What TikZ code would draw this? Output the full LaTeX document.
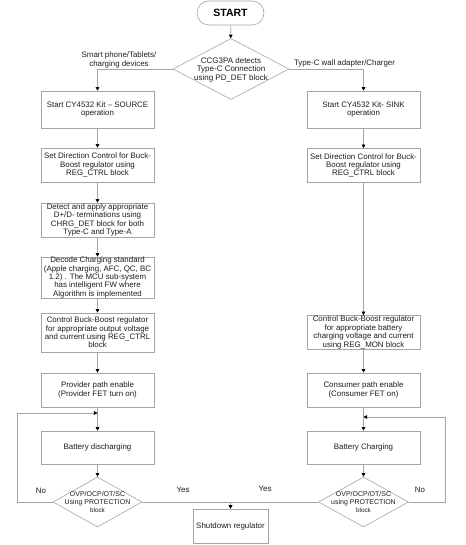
\documentclass[tikz,border=0pt]{standalone}
\usepackage{fontspec}
\setmainfont{Liberation Sans}
\usetikzlibrary{shapes.geometric,arrows.meta}
\definecolor{linegray}{RGB}{165,165,165}
\definecolor{txt}{RGB}{30,30,30}
\begin{document}
\begin{tikzpicture}[x=1pt,y=-1pt,
  box/.style={draw=linegray, line width=0.6pt, rectangle, minimum width=113pt, inner sep=0pt, align=center, text=txt, font=\fontsize{7.9}{8.4}\selectfont},
  dia/.style={draw=linegray, line width=0.6pt, diamond, inner sep=0pt},
  diatext/.style={align=center, text=txt, inner sep=0pt},
  lbl/.style={align=center, text=txt, inner sep=0pt, font=\fontsize{7.9}{8.4}\selectfont},
  conn/.style={draw=linegray, line width=0.7pt, -{Triangle[width=3.6pt,length=3.6pt,color=black]}},
  plain/.style={draw=linegray, line width=0.7pt}
]
\useasboundingbox (0,0) rectangle (465,545);
\fill[white] (0,0) rectangle (465,545);

% start
\node[draw=linegray, line width=0.6pt, rounded corners=12pt, minimum width=67pt, minimum height=24pt, inner sep=0pt, text=black, font=\fontsize{10.5}{12}\selectfont\bfseries] (start) at (230.5,13) {START};

% detection diamond
\node[dia, minimum width=116pt, minimum height=61pt] (det) at (231,69) {};
\node[diatext, font=\fontsize{8}{8.5}\selectfont] (dett) at (231,69.5) {CCG3PA detects\\Type-C Connection\\using PD\_DET block};

% left column
\node[box, minimum height=37pt] (l1) at (97.5,109.5) {Start CY4532 Kit -- SOURCE\\operation};
\node[box, minimum height=34pt] (l2) at (97.5,165) {Set Direction Control for Buck-\\Boost regulator using\\REG\_CTRL block};
\node[box, minimum height=34pt] (l3) at (97.5,220) {Detect and apply appropriate\\D+/D- terminations using\\CHRG\_DET block for both\\Type-C and Type-A};
\node[box, minimum height=39pt] (l4) at (97.5,277.5) {Decode Charging standard\\(Apple charging, AFC, QC, BC\\1.2) . The MCU sub-system\\has intelligent FW where\\Algorithm is implemented};
\node[box, minimum height=39pt] (l5) at (97.5,332.5) {Control Buck-Boost regulator\\for appropriate output voltage\\and current using REG\_CTRL\\block};
\node[box, minimum height=34pt] (l6) at (97.5,390) {Provider path enable\\(Provider FET turn on)};
\node[box, minimum height=33pt] (l7) at (97.5,447.5) {Battery discharging};
\node[dia, minimum width=89pt, minimum height=50pt] (ld) at (97.5,502) {};
\node[diatext, font=\fontsize{7}{8}\selectfont] (ldt) at (97.5,502) {OVP/OCP/OT/SC\\Using PROTECTION\\{\fontsize{6.3}{8}\selectfont block}};

% right column
\node[box, minimum height=37pt] (r1) at (363.5,109.5) {Start CY4532 Kit- SINK\\operation};
\node[box, minimum height=34pt] (r2) at (363.5,165.5) {Set Direction Control for Buck-\\Boost regulator using\\REG\_CTRL block};
\node[box, minimum height=34pt] (r3) at (363.5,332.5) {Control Buck-Boost regulator\\for appropriate battery\\charging voltage and current\\using REG\_MON block};
\node[box, minimum height=34pt] (r4) at (363.5,390) {Consumer path enable\\(Consumer FET on)};
\node[box, minimum height=33pt] (r5) at (363.5,447.5) {Battery Charging};
\node[dia, minimum width=90pt, minimum height=50pt] (rd) at (363.5,502) {};
\node[diatext, font=\fontsize{7}{8}\selectfont] (rdt) at (363.5,502) {OVP/OCP/OT/SC\\using PROTECTION\\{\fontsize{6.3}{8}\selectfont block}};

% shutdown
\node[box, minimum width=75pt, minimum height=34pt] (sd) at (230.5,526) {Shutdown regulator};

% loop junctions
\coordinate (lj) at (97.5,413);
\coordinate (rj) at (363.5,417);

% connectors
\draw[conn] (start) -- (det);
\draw[conn] (det.west) -| (l1.north);
\draw[conn] (det.east) -| (r1.north);
\draw[conn] (l1) -- (l2);
\draw[conn] (l2) -- (l3);
\draw[conn] (l3) -- (l4);
\draw[conn] (l4) -- (l5);
\draw[conn] (l5) -- (l6);
\draw[conn] (l6) -- (l7);
\draw[conn] (l7) -- (ld);
\draw[conn] (r1) -- (r2);
\draw[conn] (r2) -- (r3);
\draw[conn] (r3) -- (r4);
\draw[conn] (r4) -- (r5);
\draw[conn] (r5) -- (rd);
\draw[conn] (ld.west) -- ++(-35,0) |- (lj);
\draw[conn] (rd.east) -- ++(37,0) |- (rj);
\draw[conn] (ld.east) -| (sd.north);
\draw[conn] (rd.west) -| (sd.north);

% labels
\node[lbl] (lab1) at (119,60) {Smart phone/Tablets/\\charging devices};
\node[lbl] (lab2) at (344.5,63) {Type-C wall adapter/Charger};
\node[lbl] (no1) at (41,491) {No};
\node[lbl] (yes1) at (183,490) {Yes};
\node[lbl] (yes2) at (265,489) {Yes};
\node[lbl] (no2) at (420,490) {No};
\end{tikzpicture}
\end{document}
